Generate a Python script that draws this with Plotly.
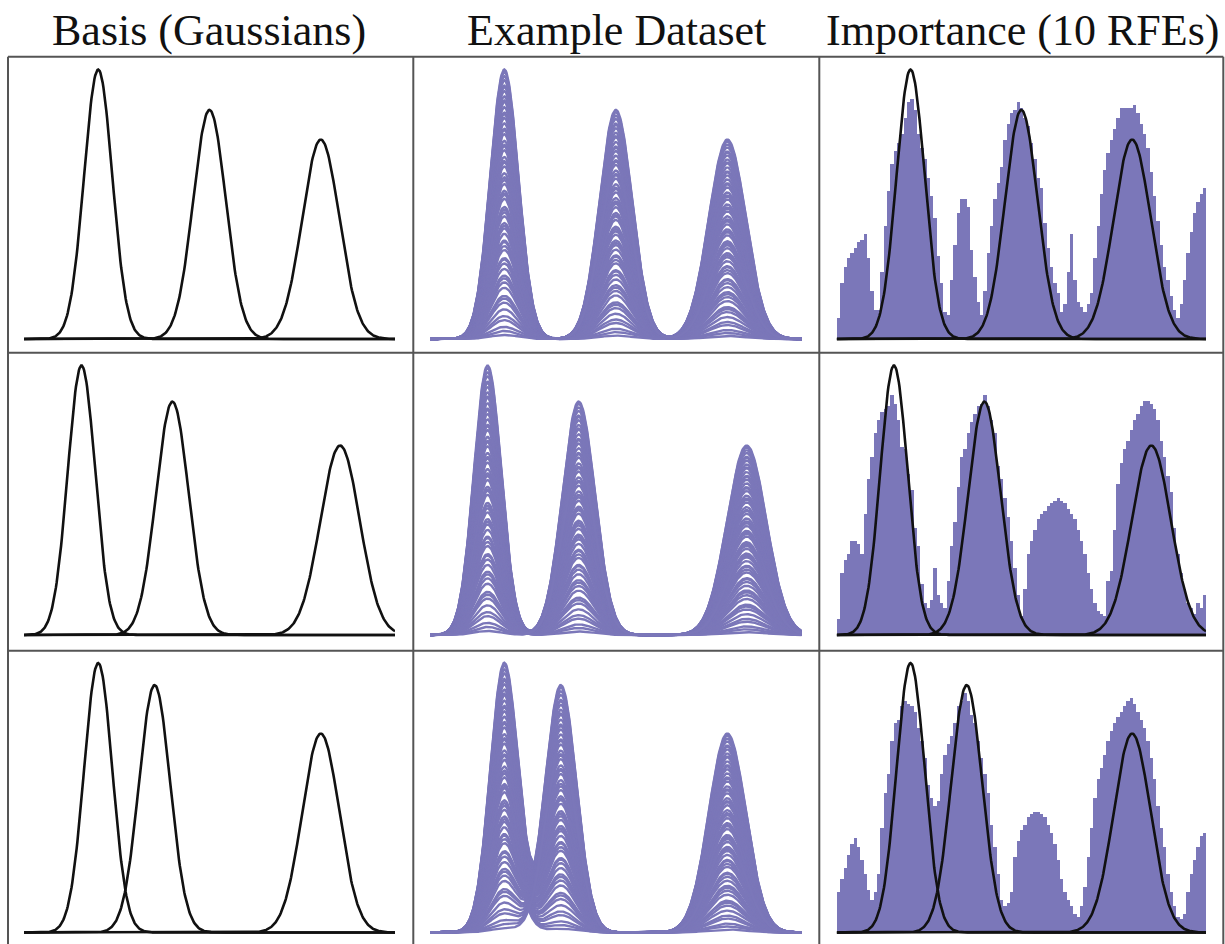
import numpy as np
import plotly.graph_objects as go

W, H = 1225, 944

titles = ["Basis (Gaussians)", "Example Dataset", "Importance (10 RFEs)"]

# Gaussian basis per row: centre (x in 0..1), peak height (rel. to tallest), sigma
centers = [[0.20, 0.50, 0.80], [0.155, 0.40, 0.852], [0.20, 0.352, 0.80]]
heights = [[1.0, 0.85, 0.74], [1.0, 0.866, 0.703], [1.0, 0.918, 0.738]]
sigmas = [[0.038, 0.044, 0.050], [0.037, 0.044, 0.053], [0.038, 0.042, 0.050]]

# amplitude scales of the example-dataset samples
sample_scales = [1.0, 0.99, 0.975, 0.96, 0.94, 0.935, 0.92, 0.90, 0.885, 0.88,
                 0.86, 0.84, 0.835, 0.82, 0.80, 0.78, 0.775, 0.76, 0.735, 0.72,
                 0.715, 0.70, 0.675, 0.66, 0.655, 0.64, 0.615, 0.60, 0.59, 0.575,
                 0.55, 0.54, 0.535, 0.52, 0.49, 0.48, 0.47, 0.455, 0.43, 0.42,
                 0.41, 0.39, 0.365, 0.36, 0.345, 0.33, 0.30, 0.295, 0.28, 0.26,
                 0.235, 0.225, 0.21, 0.19, 0.16, 0.15, 0.135, 0.11, 0.085, 0.07,
                 0.045, 0.03, 0.015]

# importance per feature (10 RFEs), relative to tallest basis peak
importance_r1 = [0.08, 0.21, 0.27, 0.30, 0.32, 0.34, 0.36, 0.37, 0.39, 0.30,
                 0.18, 0.11, 0.11, 0.25, 0.42, 0.55, 0.65, 0.70, 0.73, 0.76,
                 0.82, 0.88, 0.89, 0.85, 0.76, 0.71, 0.67, 0.60, 0.53, 0.45,
                 0.31, 0.21, 0.10, 0.09, 0.22, 0.35, 0.47, 0.52, 0.52, 0.49,
                 0.33, 0.23, 0.14, 0.09, 0.18, 0.32, 0.42, 0.52, 0.58, 0.64,
                 0.74, 0.80, 0.84, 0.85, 0.88, 0.86, 0.82, 0.79, 0.73, 0.67,
                 0.60, 0.56, 0.43, 0.34, 0.27, 0.21, 0.17, 0.10, 0.13, 0.25,
                 0.39, 0.22, 0.14, 0.12, 0.10, 0.13, 0.17, 0.30, 0.42, 0.54,
                 0.63, 0.69, 0.74, 0.78, 0.82, 0.86, 0.86, 0.86, 0.86, 0.87,
                 0.84, 0.80, 0.76, 0.71, 0.62, 0.53, 0.44, 0.35, 0.27, 0.22,
                 0.16, 0.11, 0.08, 0.13, 0.22, 0.32, 0.40, 0.47, 0.51, 0.54,
                 0.56]
importance_r2 = [0.06, 0.23, 0.28, 0.30, 0.35, 0.35, 0.34, 0.30, 0.45, 0.58,
                 0.66, 0.75, 0.80, 0.83, 0.84, 0.85, 0.89, 0.86, 0.80, 0.70,
                 0.69, 0.60, 0.54, 0.40, 0.33, 0.19, 0.12, 0.10, 0.13, 0.25,
                 0.15, 0.12, 0.10, 0.20, 0.33, 0.42, 0.55, 0.66, 0.69, 0.75,
                 0.79, 0.82, 0.85, 0.86, 0.89, 0.85, 0.80, 0.75, 0.63, 0.58,
                 0.51, 0.44, 0.35, 0.25, 0.15, 0.07, 0.17, 0.30, 0.35, 0.39,
                 0.43, 0.45, 0.46, 0.48, 0.49, 0.50, 0.51, 0.50, 0.49, 0.47,
                 0.45, 0.43, 0.39, 0.35, 0.30, 0.23, 0.17, 0.12, 0.09, 0.08,
                 0.07, 0.20, 0.24, 0.39, 0.56, 0.64, 0.69, 0.72, 0.76, 0.80,
                 0.82, 0.85, 0.87, 0.87, 0.86, 0.84, 0.80, 0.72, 0.66, 0.59,
                 0.53, 0.40, 0.30, 0.23, 0.17, 0.12, 0.10, 0.08, 0.12, 0.10,
                 0.15]
importance_r3 = [0.15, 0.20, 0.24, 0.29, 0.33, 0.35, 0.32, 0.27, 0.22, 0.16,
                 0.12, 0.15, 0.22, 0.39, 0.52, 0.59, 0.71, 0.78, 0.79, 0.84,
                 0.86, 0.85, 0.84, 0.82, 0.76, 0.71, 0.65, 0.55, 0.50, 0.47,
                 0.49, 0.59, 0.66, 0.70, 0.73, 0.78, 0.84, 0.86, 0.89, 0.86,
                 0.81, 0.78, 0.71, 0.65, 0.59, 0.52, 0.40, 0.32, 0.22, 0.12,
                 0.10, 0.11, 0.15, 0.28, 0.34, 0.38, 0.40, 0.43, 0.44, 0.45,
                 0.45, 0.44, 0.43, 0.40, 0.37, 0.33, 0.27, 0.20, 0.15, 0.12,
                 0.10, 0.07, 0.06, 0.10, 0.17, 0.28, 0.39, 0.50, 0.57, 0.61,
                 0.66, 0.71, 0.75, 0.78, 0.80, 0.82, 0.84, 0.86, 0.87, 0.85,
                 0.82, 0.79, 0.76, 0.71, 0.65, 0.57, 0.47, 0.39, 0.32, 0.22,
                 0.15, 0.10, 0.06, 0.05, 0.07, 0.15, 0.22, 0.27, 0.32, 0.36,
                 0.37]
importances = [importance_r1, importance_r2, importance_r3]

PURPLE = "#7b77b9"
BLACK = "#111111"

# ---- layout geometry (pixels) ----
col_plot = [(24, 395), (430, 801.7), (836.7, 1206)]
row_base = [339, 635, 932.5]
row_top = [56.7, 352.7, 650.7]
px_per_unit = 269.5
pad = 6
col_lines = [8, 413.3, 819.3, 1223.3]
row_lines = [56.7, 352.7, 650.7]
title_cx = [209, 616, 1022]

xs = np.linspace(0, 1, 501)


def gauss(x, c, h, s):
    return h * np.exp(-(x - c) ** 2 / (2 * s ** 2))


fig = go.Figure()
layout_axes = {}
for r in range(3):
    for c in range(3):
        idx = r * 3 + c + 1
        xa = "x" if idx == 1 else f"x{idx}"
        ya = "y" if idx == 1 else f"y{idx}"
        xkey = "xaxis" if idx == 1 else f"xaxis{idx}"
        ykey = "yaxis" if idx == 1 else f"yaxis{idx}"
        x0, x1 = col_plot[c]
        b, t = row_base[r], row_top[r]
        layout_axes[xkey] = dict(domain=[x0 / W, x1 / W], range=[0, 1], visible=False,
                                 anchor=ya, fixedrange=True)
        layout_axes[ykey] = dict(domain=[1 - (b + pad) / H, 1 - t / H],
                                 range=[-pad / px_per_unit, (b - t) / px_per_unit],
                                 visible=False, anchor=xa, fixedrange=True)

        if c == 1:
            # example dataset: many scaled samples
            n = len(sample_scales)
            X, Y = [], []
            for i in range(n):
                y = np.zeros_like(xs)
                for k in range(3):
                    a = sample_scales[(i + 19 * k) % n]
                    y = y + a * gauss(xs, centers[r][k], heights[r][k], sigmas[r][k])
                X.extend(list(xs) + [None])
                Y.extend(list(y) + [None])
            fig.add_trace(go.Scatter(x=X, y=Y, mode="lines", xaxis=xa, yaxis=ya,
                                     line=dict(color=PURPLE, width=2.4),
                                     showlegend=False, hoverinfo="skip"))
        if c == 2:
            vals = importances[r]
            nb = len(vals)
            fig.add_trace(go.Bar(x=(np.arange(nb) + 0.5) / nb, y=vals, width=1.0 / nb,
                                 xaxis=xa, yaxis=ya, marker=dict(color=PURPLE, line=dict(width=0)),
                                 showlegend=False, hoverinfo="skip"))
        if c in (0, 2):
            for k in range(3):
                fig.add_trace(go.Scatter(x=xs, y=gauss(xs, centers[r][k], heights[r][k], sigmas[r][k]),
                                         mode="lines", xaxis=xa, yaxis=ya,
                                         line=dict(color=BLACK, width=2.6),
                                         showlegend=False, hoverinfo="skip"))

shapes = []
for xv in col_lines:
    shapes.append(dict(type="line", xref="paper", yref="paper", x0=xv / W, x1=xv / W,
                       y0=1 - row_lines[0] / H, y1=0, line=dict(color="#555555", width=2)))
for yv in row_lines:
    shapes.append(dict(type="line", xref="paper", yref="paper", x0=col_lines[0] / W,
                       x1=col_lines[-1] / W, y0=1 - yv / H, y1=1 - yv / H,
                       line=dict(color="#555555", width=2)))

annotations = []
for c in range(3):
    annotations.append(dict(text=titles[c], x=title_cx[c] / W, y=1 - 31 / H, xref="paper",
                            yref="paper", xanchor="center", yanchor="middle", showarrow=False,
                            font=dict(family="Liberation Serif", size=44, color="#111111")))

fig.update_layout(width=W, height=H, margin=dict(l=0, r=0, t=0, b=0),
                  paper_bgcolor="white", plot_bgcolor="white", bargap=0,
                  shapes=shapes, annotations=annotations, **layout_axes)

fig.write_html("out.html")
